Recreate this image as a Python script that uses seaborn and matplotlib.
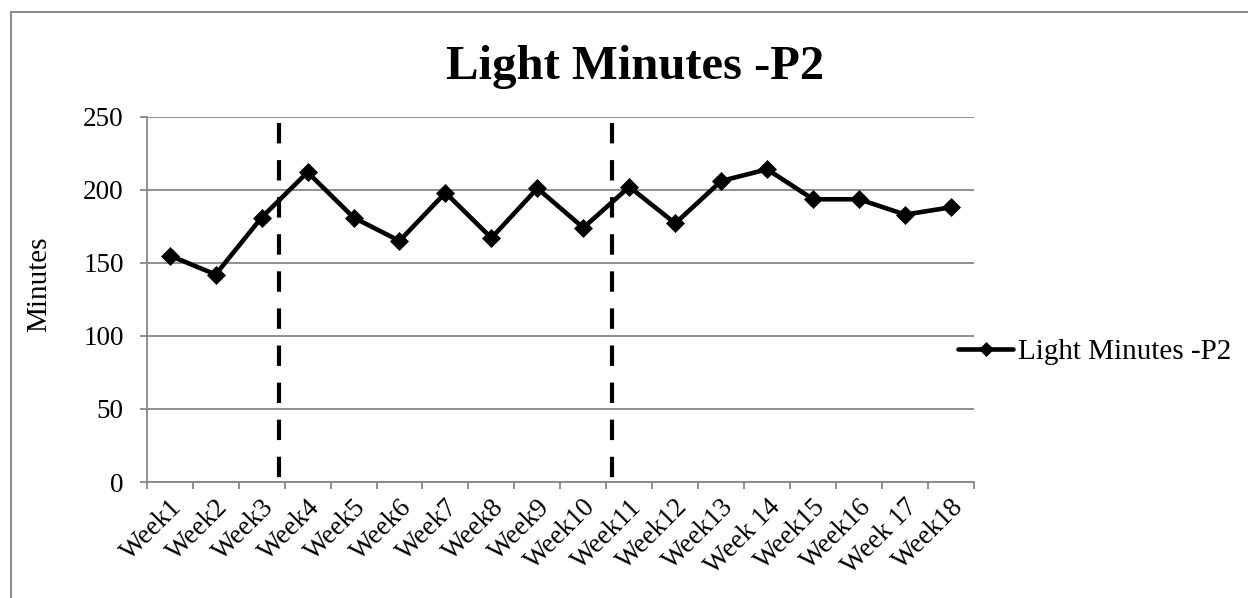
import matplotlib
matplotlib.use("Agg")
import matplotlib.pyplot as plt
import matplotlib.patches as mpatches
from matplotlib.ticker import FixedLocator, NullFormatter
import numpy as np
import pandas as pd
import seaborn as sns

# Weekly light-activity minutes for participant P2
weeks = ["Week1", "Week2", "Week3", "Week4", "Week5", "Week6", "Week7", "Week8",
         "Week9", "Week10", "Week11", "Week12", "Week13", "Week 14", "Week15",
         "Week16", "Week 17", "Week18"]
light_minutes = [155, 142, 181, 212, 181, 165, 198, 167, 201, 174, 202, 177,
                 206, 214, 193.5, 193.5, 183, 188]
series_name = "Light Minutes -P2"
y_label = "Minutes"
y_ticks = [0, 50, 100, 150, 200, 250]

# Phase-change markers (in category units, between weeks)
phase_breaks = [2.38, 9.63]
phase_top = 246

sns.set_theme(style="white")
plt.rcParams["font.family"] = ["Liberation Serif", "DejaVu Serif"]
plt.rcParams["text.color"] = "black"
plt.rcParams["axes.labelcolor"] = "black"
plt.rcParams["xtick.labelcolor"] = "black"
plt.rcParams["ytick.labelcolor"] = "black"

GRID = "#878787"

fig = plt.figure(figsize=(12.48, 5.98), dpi=100)
ax = fig.add_axes([146.7 / 1248, 1 - 482 / 598, (974 - 146.7) / 1248, (482 - 116.7) / 598])

df = pd.DataFrame({"Week": weeks, "Minutes": light_minutes})
sns.lineplot(data=df, x="Week", y="Minutes", ax=ax, sort=False,
             color="black", lw=3.3, marker="D", markersize=9,
             markeredgecolor="black", markeredgewidth=0.5,
             label=series_name, zorder=4)

# Dashed phase lines
ax.vlines(phase_breaks, phase_top, 0, colors="black", lw=3.0,
          linestyles=(0, (4.9, 4.0)), zorder=3)

ax.set_xlim(-0.5, len(weeks) - 0.5)
ax.set_ylim(0, 250)
ax.yaxis.set_major_locator(FixedLocator(y_ticks))
ax.yaxis.grid(True, color=GRID, lw=1.3)
ax.xaxis.grid(False)
ax.set_axisbelow(True)

for side in ("top", "right"):
    ax.spines[side].set_visible(False)
for side in ("left", "bottom"):
    ax.spines[side].set_color(GRID)
    ax.spines[side].set_linewidth(1.3)

# Category labels at centres, tick marks at category boundaries
ax.set_xticks(np.arange(len(weeks)))
ax.set_xticklabels(weeks, rotation=45, ha="right", va="top",
                   rotation_mode="anchor", fontsize=19.5)
ax.xaxis.set_minor_locator(FixedLocator(np.arange(-0.5, len(weeks), 1.0)))
ax.xaxis.set_minor_formatter(NullFormatter())
ax.tick_params(axis="x", which="major", length=0, pad=9)
ax.tick_params(axis="x", which="minor", length=5, width=1.3, color=GRID,
               direction="out", bottom=True)
ax.tick_params(axis="y", length=5, width=1.3, color=GRID, direction="out",
               left=True, pad=11.5, labelsize=19.5)

ax.set_xlabel("")
ax.set_ylabel(y_label, fontsize=21)
ax.yaxis.set_label_coords(-0.1145, 0.542)

ax.legend(loc="center left", bbox_to_anchor=(958 / 1248, 1 - 352 / 598),
          bbox_transform=fig.transFigure, frameon=False, fontsize=21,
          handlelength=1.9, handletextpad=0.14, borderpad=0, borderaxespad=0,
          markerscale=0.8)

fig.text(635 / 1248, 1 - 67 / 598, series_name, ha="center", va="center",
         fontsize=35, fontweight="bold")

# Chart area frame
fig.add_artist(mpatches.Rectangle((11 / 1248, -0.1), 1.2, 1.1 - 12 / 598,
                                  transform=fig.transFigure, fill=False,
                                  edgecolor="#8c8c8c", lw=1.5))

fig.savefig("out.png", dpi=100, facecolor="white")
